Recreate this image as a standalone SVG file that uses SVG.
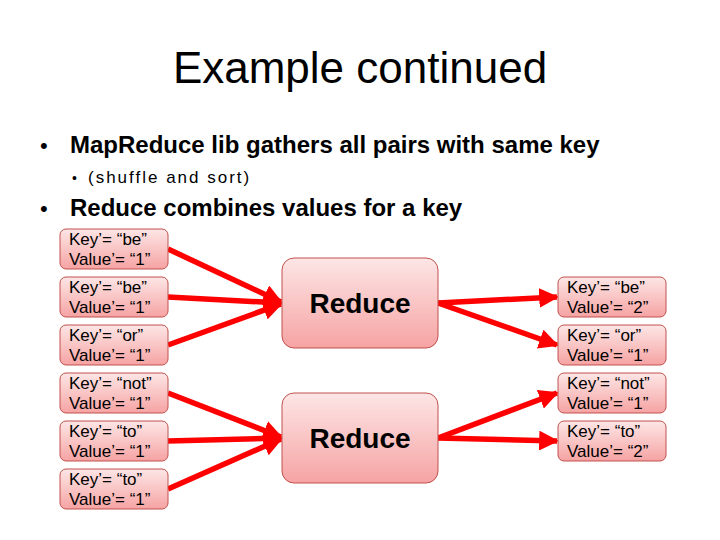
<svg xmlns="http://www.w3.org/2000/svg" width="720" height="540" viewBox="0 0 720 540">
<defs>
<linearGradient id="g" x1="0" y1="0" x2="0" y2="1">
<stop offset="0" stop-color="#fde6e6"/>
<stop offset="1" stop-color="#f6a3a3"/>
</linearGradient>
<marker id="ah" viewBox="0 0 10 10" refX="9" refY="5" markerWidth="3.6" markerHeight="3.6" orient="auto" markerUnits="strokeWidth">
<path d="M0,0 L10,5 L0,10 z" fill="#ff0000"/>
</marker>
<style>
.bx{fill:url(#g);stroke:#c0504d;stroke-width:1}
.t{font-family:"Liberation Sans",Arial,sans-serif;font-size:17px;fill:#000}
.r{font-family:"Liberation Sans",Arial,sans-serif;font-size:28px;font-weight:bold;fill:#000;text-anchor:middle}
.c{stroke:#ff0000;stroke-width:5.5;fill:none;marker-end:url(#ah)}
</style>
</defs>
<rect width="720" height="540" fill="#fff"/>
<text x="360" y="83" text-anchor="middle" font-family="Liberation Sans,Arial,sans-serif" font-size="44">Example continued</text>
<g font-family="Liberation Sans,Arial,sans-serif" fill="#000">
<text x="40" y="153" font-size="22">•</text>
<text x="70" y="153" font-size="24" font-weight="bold">MapReduce lib gathers all pairs with same key</text>
<text x="72" y="183" font-size="14">•</text>
<text x="88" y="183" font-size="17" letter-spacing="2">(shuffle and sort)</text>
<text x="40" y="216" font-size="22">•</text>
<text x="70" y="216" font-size="24" font-weight="bold">Reduce combines values for a key</text>
</g>
<g id="connectors">
<line class="c" x1="168" y1="249" x2="281" y2="302"/>
<line class="c" x1="168" y1="297" x2="281" y2="303"/>
<line class="c" x1="168" y1="345" x2="281" y2="304"/>
<line class="c" x1="438" y1="303" x2="557" y2="297"/>
<line class="c" x1="438" y1="303" x2="557" y2="345"/>
<line class="c" x1="168" y1="393" x2="281" y2="437"/>
<line class="c" x1="168" y1="441" x2="281" y2="438"/>
<line class="c" x1="168" y1="489" x2="281" y2="439"/>
<line class="c" x1="438" y1="438" x2="557" y2="393"/>
<line class="c" x1="438" y1="438" x2="557" y2="441"/>
</g>
<g id="in1"><rect class="bx" x="60" y="229" width="108" height="40" rx="6"/><text class="t" x="69" y="245">Key’= “be”</text><text class="t" x="69" y="265">Value’= “1”</text></g>
<g id="in2"><rect class="bx" x="60" y="277" width="108" height="40" rx="6"/><text class="t" x="69" y="293">Key’= “be”</text><text class="t" x="69" y="313">Value’= “1”</text></g>
<g id="in3"><rect class="bx" x="60" y="325" width="108" height="40" rx="6"/><text class="t" x="69" y="341">Key’= “or”</text><text class="t" x="69" y="361">Value’= “1”</text></g>
<g id="in4"><rect class="bx" x="60" y="373" width="108" height="40" rx="6"/><text class="t" x="69" y="389">Key’= “not”</text><text class="t" x="69" y="409">Value’= “1”</text></g>
<g id="in5"><rect class="bx" x="60" y="421" width="108" height="40" rx="6"/><text class="t" x="69" y="437">Key’= “to”</text><text class="t" x="69" y="457">Value’= “1”</text></g>
<g id="in6"><rect class="bx" x="60" y="469" width="108" height="40" rx="6"/><text class="t" x="69" y="485">Key’= “to”</text><text class="t" x="69" y="505">Value’= “1”</text></g>
<g id="reduce1"><rect class="bx" x="282" y="258" width="156" height="90" rx="12"/><text class="r" x="360" y="313">Reduce</text></g>
<g id="reduce2"><rect class="bx" x="282" y="393" width="156" height="90" rx="12"/><text class="r" x="360" y="448">Reduce</text></g>
<g id="out1"><rect class="bx" x="558" y="277" width="108" height="40" rx="6"/><text class="t" x="567" y="293">Key’= “be”</text><text class="t" x="567" y="313">Value’= “2”</text></g>
<g id="out2"><rect class="bx" x="558" y="325" width="108" height="40" rx="6"/><text class="t" x="567" y="341">Key’= “or”</text><text class="t" x="567" y="361">Value’= “1”</text></g>
<g id="out3"><rect class="bx" x="558" y="373" width="108" height="40" rx="6"/><text class="t" x="567" y="389">Key’= “not”</text><text class="t" x="567" y="409">Value’= “1”</text></g>
<g id="out4"><rect class="bx" x="558" y="421" width="108" height="40" rx="6"/><text class="t" x="567" y="437">Key’= “to”</text><text class="t" x="567" y="457">Value’= “2”</text></g>
</svg>
